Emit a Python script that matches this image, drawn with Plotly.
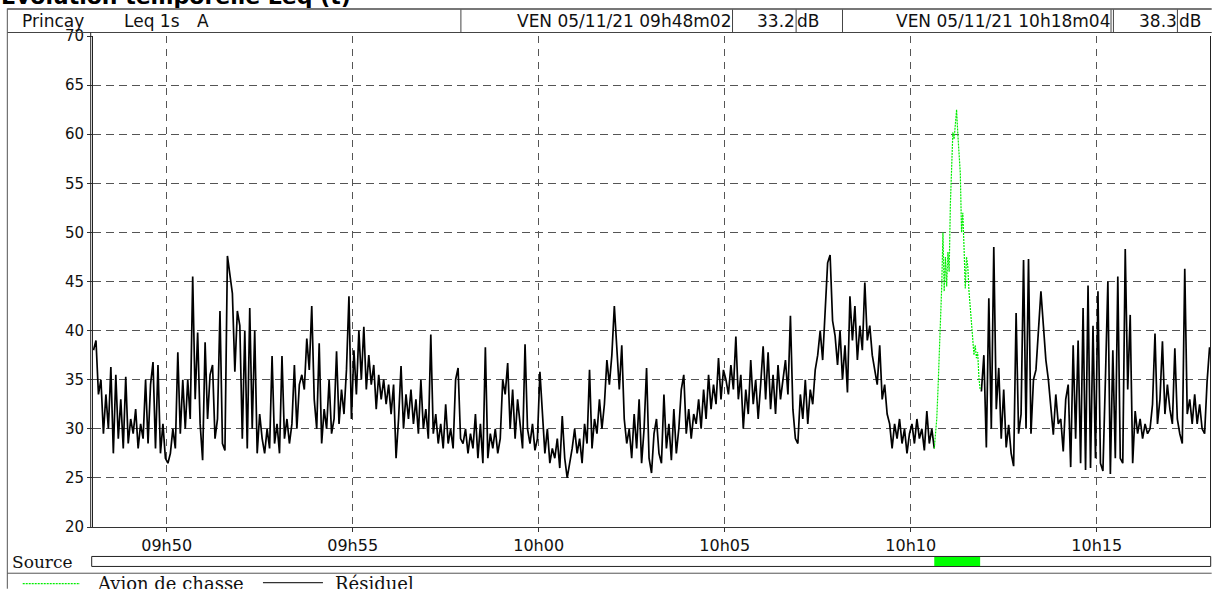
import plotly.graph_objects as go
from datetime import datetime, timedelta

# ---------------- data (Leq 1s, dB(A)) ----------------
start_time = datetime(2021, 11, 5, 9, 48, 2)
sample_step_s = 4

# Résiduel, first part : from 09h48m02 (offset 0 s), every 4 s
residuel_1_offset_s = 0
residuel_1 = [
    38.0, 39.0, 33.5, 35.0, 29.5, 33.5, 30.0, 36.3, 27.5, 35.5,
    29.0, 33.0, 28.0, 35.3, 28.5, 31.0, 29.5, 32.0, 28.0, 30.5,
    29.0, 35.0, 28.5, 34.5, 36.8, 28.0, 36.5, 27.5, 30.5, 27.0,
    26.5, 27.5, 30.0, 28.0, 37.8, 29.5, 35.0, 30.0, 35.0, 31.0,
    45.5, 33.0, 39.8, 30.5, 26.8, 38.8, 31.0, 35.5, 36.5, 29.0,
    31.0, 42.0, 28.5, 27.8, 47.6, 45.5, 43.8, 35.8, 42.0, 40.5,
    29.0, 40.0, 28.0, 42.3, 30.0, 40.0, 27.5, 31.5, 29.0, 27.5,
    30.0, 28.0, 37.4, 28.5, 30.5, 27.5, 37.4, 29.0, 31.0, 28.5,
    30.5, 36.5, 30.0, 34.5, 35.5, 34.0, 39.2, 36.0, 42.5, 33.0,
    30.0, 38.7, 28.5, 32.0, 30.0, 35.0, 29.5, 31.0, 37.9, 30.5,
    34.0, 31.5, 36.0, 43.5, 31.0, 38.0, 33.5, 40.0, 35.0, 40.4,
    34.0, 37.5, 34.5, 36.5, 32.0, 35.5, 33.0, 35.0, 32.5, 34.5,
    31.5, 34.5, 27.0, 31.0, 36.4, 30.0, 33.5, 31.0, 34.0, 30.5,
    33.0, 29.5, 35.0, 30.0, 32.0, 29.0, 39.6, 29.5, 31.5, 28.5,
    30.5, 28.0, 32.5, 28.5, 30.0, 28.0, 35.0, 36.2, 29.0, 28.5,
    30.0, 27.5, 29.5, 28.0, 31.5, 27.0, 30.5, 26.5, 38.3, 27.0,
    29.5, 28.0, 30.0, 27.5, 29.0, 35.0, 33.5, 36.7, 30.0, 34.0,
    29.0, 33.0, 30.5, 28.0, 38.6, 30.0, 28.5, 30.5, 27.8, 29.0,
    35.8, 32.0, 27.5, 30.0, 26.5, 28.0, 27.0, 29.0, 26.0, 31.3,
    27.0, 25.0, 26.5, 28.0, 30.0, 27.5, 29.0, 26.5, 30.5, 28.5,
    36.0, 28.0, 31.0, 29.5, 33.0, 30.0, 32.5, 37.0, 34.5, 37.5,
    42.5, 38.8, 34.0, 38.5, 31.0, 28.5, 30.0, 27.0, 31.5, 28.0,
    33.0, 26.5, 30.0, 36.2, 27.0, 25.5, 29.5, 31.0, 27.5, 26.5,
    33.5, 28.0, 30.5, 26.8, 32.0, 27.5, 30.0, 34.0, 35.5, 29.5,
    32.0, 29.0, 31.5, 30.5, 33.0, 30.0, 34.0, 31.0, 35.5, 32.0,
    34.5, 32.5, 37.2, 33.0, 36.0, 35.0, 33.5, 36.5, 34.0, 39.4,
    33.0, 35.5, 30.0, 34.0, 31.5, 37.0, 32.5, 35.0, 31.0, 34.5,
    38.4, 33.0, 37.8, 32.0, 35.5, 31.5, 36.5, 33.0, 35.0, 37.0,
    33.5, 41.5, 32.0, 29.0, 28.5, 33.5, 31.0, 35.0, 30.5, 34.0,
    32.5, 36.0, 37.5, 40.0, 37.0, 41.5, 46.9, 47.7, 41.0, 39.5,
    36.5, 40.0, 35.0, 38.5, 33.7, 43.5, 39.0, 42.5, 37.0, 40.5,
    38.0, 44.9, 39.0, 40.5, 37.5, 36.0, 34.5, 38.5, 33.0, 34.5,
    31.5, 30.5, 28.0, 30.5, 29.0, 31.0, 28.5, 30.0, 27.5, 29.5,
    30.5, 28.5, 31.0, 29.0, 30.0, 27.8, 31.8, 28.5, 30.0, 28.0,
]

# Résiduel, second part : after the aircraft event, every 4 s
residuel_2_offset_s = 1432
residuel_2 = [
    33.8, 37.5, 28.1, 43.3, 30.0, 48.5, 32.0, 36.2, 29.0, 34.0,
    28.1, 30.4, 27.5, 26.2, 41.8, 29.5, 31.5, 47.2, 30.0, 47.3,
    29.5, 35.0, 36.0, 39.9, 44.0, 40.5, 37.0, 35.0, 32.0, 29.4,
    33.5, 30.5, 31.0, 27.7, 33.0, 34.5, 26.1, 38.5, 29.0, 39.0,
    26.5, 42.3, 25.8, 44.6, 26.0, 40.5, 27.0, 44.0, 26.5, 25.7,
    35.0, 45.0, 25.4, 38.0, 27.0, 45.5, 27.0, 26.5, 48.3, 34.0,
    41.6, 26.5, 31.8, 29.5, 31.0, 29.0, 30.5, 29.5, 30.0, 32.5,
    39.7, 30.5, 33.0, 38.9, 31.5, 34.5, 32.0, 30.5, 38.2, 31.0,
    29.5, 28.5, 46.3, 31.5, 33.0, 30.5, 33.5, 30.5, 32.5, 30.0,
    29.5, 34.8, 38.3,
]

# Avion de chasse (source event), every 2 s
avion_offset_s = 1356
avion_step_s = 2
avion = [
    28.0, 29.5, 31.0, 34.0, 37.5, 40.0, 44.5, 50.0, 44.0, 47.5,
    44.5, 48.0, 46.0, 52.9, 57.5, 60.2, 59.5, 61.5, 62.5, 60.0,
    57.5, 56.0, 50.0, 52.0, 48.5, 44.3, 47.5, 46.6, 44.0, 42.0,
    40.6, 39.2, 37.5, 38.5, 37.2, 37.8, 35.2, 34.0,
]

y_ticks = [20, 25, 30, 35, 40, 45, 50, 55, 60, 65, 70]
header_place = "Princay"
header_index = "Leq 1s"
header_weight = "A"
cursor_1_label = "VEN 05/11/21 09h48m02"
cursor_1_value = "33.2"
cursor_2_label = "VEN 05/11/21 10h18m04"
cursor_2_value = "38.3"
unit = "dB"

# ---------------- build ----------------
def times(offset, step, n):
    return [start_time + timedelta(seconds=offset + i * step) for i in range(n)]

x_r1 = times(residuel_1_offset_s, sample_step_s, len(residuel_1))
x_r2 = times(residuel_2_offset_s, sample_step_s, len(residuel_2))
x_av = times(avion_offset_s, avion_step_s, len(avion))

W, H = 1212, 589
PL, PR, PT, PB = 93.0, 1210.3, 35.5, 527.2


def fx(xp):
    return (xp - PL) / (PR - PL)


def fy(yp):
    return (PB - yp) / (PB - PT)


fig = go.Figure()
fig.add_trace(go.Scatter(
    x=x_r1 + [None] + x_r2, y=residuel_1 + [None] + residuel_2,
    mode="lines", name="Résiduel",
    line=dict(color="black", width=1.7), showlegend=False, hoverinfo="skip"))
fig.add_trace(go.Scatter(
    x=x_av, y=avion, mode="lines", name="Avion de chasse",
    line=dict(color="#00ee00", width=1.2, dash="2px,1px"),
    showlegend=False, hoverinfo="skip"))

grid_col = "#555555"
fig.update_layout(
    width=W, height=H,
    margin=dict(l=PL, r=W - PR, t=PT, b=H - PB, pad=0),
    paper_bgcolor="white", plot_bgcolor="white",
    showlegend=False,
    xaxis=dict(
        type="date",
        range=[start_time - timedelta(seconds=0.8), start_time + timedelta(seconds=1800.7)],
        tick0=datetime(2021, 11, 5, 9, 50, 0), dtick=300000,
        tickformat="%Hh%M",
        showgrid=True, gridcolor=grid_col, gridwidth=1, griddash="7px,6px",
        showline=True, linecolor="#333333", linewidth=1,
        ticks="outside", ticklen=4, tickcolor="#333333",
        tickfont=dict(family="DejaVu Sans", size=16, color="#111111"),
        zeroline=False, fixedrange=True,
    ),
    yaxis=dict(
        range=[20, 70], tickmode="array", tickvals=y_ticks,
        ticktext=[str(v) for v in y_ticks],
        showgrid=True, gridcolor=grid_col, gridwidth=1, griddash="8px,5px",
        showline=True, linecolor="#222222", linewidth=1, mirror=True,
        ticks="outside", ticklen=5, tickcolor="#333333",
        tickfont=dict(family="DejaVu Sans", size=15, color="#111111"),
        zeroline=False, fixedrange=True,
    ),
)

shapes = []


def hline(y, x0, x1, color="#444444", width=1, dash=None):
    d = dict(type="line", xref="paper", yref="paper", x0=fx(x0), x1=fx(x1),
             y0=fy(y), y1=fy(y), line=dict(color=color, width=width))
    if dash:
        d["line"]["dash"] = dash
    shapes.append(d)


def vline(x, y0, y1, color="#444444", width=1):
    shapes.append(dict(type="line", xref="paper", yref="paper", x0=fx(x), x1=fx(x),
                       y0=fy(y0), y1=fy(y1), line=dict(color=color, width=width)))


# header box
hline(8.5, 7.3, 1212, color="#777777", width=2)
hline(32, 7.3, 1212, color="#444444", width=1)
for xv in [461, 732.7, 796.3, 842.7, 1111.3, 1113.7, 1177.7]:
    vline(xv, 9, 32)
# outer left frame
vline(7.3, 8, 589, color="#555555")
# double left axis line
vline(90.7, 32, PB, color="#222222")
# source bar
shapes.append(dict(type="rect", xref="paper", yref="paper",
                   x0=fx(91.7), x1=fx(1211), y0=fy(566.7), y1=fy(556.7),
                   line=dict(color="#222222", width=1), fillcolor="white"))
shapes.append(dict(type="rect", xref="x", yref="paper",
                   x0=x_av[0], x1=x_av[-1], y0=fy(566.3), y1=fy(557.3),
                   line=dict(width=0), fillcolor="#00ff00"))
# legend box top line
hline(573.5, 7.3, 1212, color="#555555")
# legend samples
hline(584, 22.7, 80, color="#00ee00", width=1.2, dash="2px,1px")
hline(583, 263, 323, color="#333333", width=1.2)

annotations = []


def text(s, x, y, anchor="left", size=16, family="DejaVu Sans", bold=False, color="#111111"):
    annotations.append(dict(
        text=("<b>%s</b>" % s) if bold else s, xref="paper", yref="paper",
        x=fx(x), y=fy(y), xanchor=anchor, yanchor="middle", showarrow=False,
        borderpad=0, font=dict(family=family, size=size, color=color)))


text("Evolution temporelle Leq (t)", 0, -4, size=22, bold=True, color="#000000")
text(header_place, 21, 20.5, size=17)
text(header_index, 123, 20.5, size=17)
text(header_weight, 196, 20.5, size=17)
text(cursor_1_label, 732, 20.5, anchor="right", size=17)
text(cursor_1_value, 796, 20.5, anchor="right", size=17)
text(unit, 796.5, 20.5, size=17)
text(cursor_2_label, 1111, 20.5, anchor="right", size=17)
text(cursor_2_value, 1178, 20.5, anchor="right", size=17)
text(unit, 1178.2, 20.5, size=17)
text("Source", 11, 562.5, size=17, family="DejaVu Serif")
text("Avion de chasse", 96, 583.5, size=18, family="DejaVu Serif")
text("Résiduel", 334, 583.5, size=18, family="DejaVu Serif")

fig.update_layout(shapes=shapes, annotations=annotations)
fig.write_html(
    "out.html",
    config={"displayModeBar": False},
    post_script="document.body.style.margin='0';document.body.style.overflow='hidden';",
)
